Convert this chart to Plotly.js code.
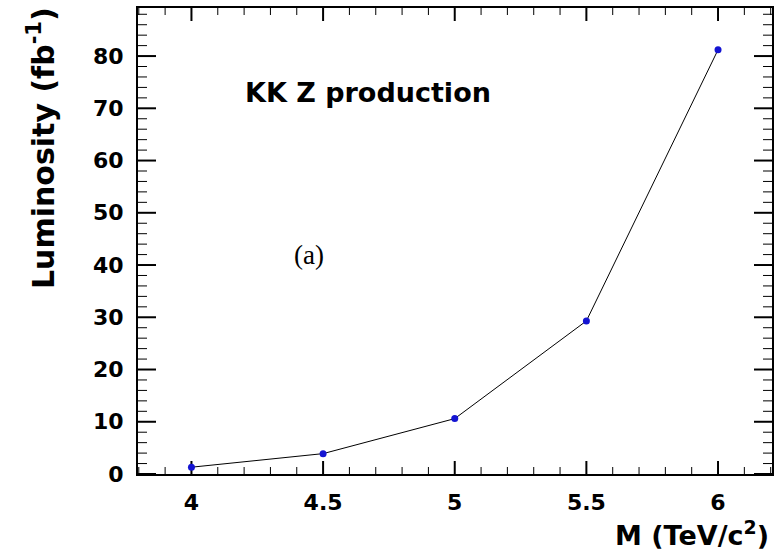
<!DOCTYPE html>
<html>
<head>
<meta charset="utf-8">
<script src="https://cdn.plot.ly/plotly-3.0.1.min.js"></script>
<style>html,body{margin:0;padding:0;background:#fff;}.p{width:782px;height:553px;}</style>
</head>
<body>
<div id="plot" class="p"></div>
<script>
const massTeV = [4, 4.5, 5, 5.5, 6];
const luminosity = [1.3, 3.9, 10.6, 29.3, 81.2];
const xRange = [3.797, 6.205];
const yRange = [0, 89.2];
const xTickStep = 0.5;
const xMinorStep = 0.1;
const yTickStep = 10;
const yMinorStep = 2;
const plotTitle = "KK Z production";
const panelLabel = "(a)";
const xTitle = "M (TeV/c<sup>2</sup>)";
const yTitle = "Luminosity (fb<sup>-1</sup>)";

const boldFont = "DejaVu Sans";
const W = 782, H = 553, M = {l: 138, r: 10, t: 8, b: 79};
const xPerPx = (xRange[1] - xRange[0]) / (W - M.l - M.r);
const yPerPx = (yRange[1] - yRange[0]) / (H - M.t - M.b);

function base(extra) {
  return Object.assign({
    showline: true, linecolor: '#000', linewidth: 2, mirror: true,
    ticks: '', showgrid: false, zeroline: false, tickmode: 'linear', tick0: 0,
    ticklabelstandoff: 8,
    tickfont: {family: boldFont, size: 22, color: '#000', weight: 'bold'}
  }, extra);
}
const xaxis = base({dtick: xTickStep, range: xRange});
const yaxis = base({dtick: yTickStep, range: yRange});

// inside tick marks built from the tick steps and the axis ranges
function isMultiple(v, step) { return Math.abs(v / step - Math.round(v / step)) < 1e-6; }
const majX = [], majY = [], minX = [], minY = [];
function seg(xs, ys, xa, ya, xb, yb) { xs.push(xa, xb, null); ys.push(ya, yb, null); }
const nx = Math.round(1 / xMinorStep);
for (let i = Math.ceil(xRange[0] * nx); i <= Math.floor(xRange[1] * nx); i++) {
  const v = i / nx, major = isMultiple(v, xTickStep);
  const len = (major ? 13 : 7) * yPerPx;
  const xs = major ? majX : minX, ys = major ? majY : minY;
  seg(xs, ys, v, yRange[0], v, yRange[0] + len);
  seg(xs, ys, v, yRange[1], v, yRange[1] - len);
}
for (let v = yRange[0]; v <= yRange[1]; v += yMinorStep) {
  const major = isMultiple(v, yTickStep);
  const len = (major ? 18 : 9) * xPerPx;
  const xs = major ? majX : minX, ys = major ? majY : minY;
  seg(xs, ys, xRange[0], v, xRange[0] + len, v);
  seg(xs, ys, xRange[1], v, xRange[1] - len, v);
}

const annotations = [
  {text: plotTitle, xref: 'paper', yref: 'paper', x: 0.166, y: 0.818,
   xanchor: 'left', yanchor: 'middle', showarrow: false,
   font: {family: boldFont, size: 27, color: '#000', weight: 'bold'}},
  {text: panelLabel, xref: 'paper', yref: 'paper', x: 0.243, y: 0.47,
   xanchor: 'left', yanchor: 'middle', showarrow: false,
   font: {family: 'Liberation Serif', size: 27, color: '#000'}},
  {text: xTitle, xref: 'paper', yref: 'paper', x: 0.998, y: -0.128,
   xanchor: 'right', yanchor: 'middle', showarrow: false,
   font: {family: boldFont, size: 27, color: '#000', weight: 'bold'}},
  {text: yTitle, xref: 'paper', yref: 'paper', x: -0.151, y: 0.70,
   xanchor: 'center', yanchor: 'middle', showarrow: false, textangle: -90,
   font: {family: boldFont, size: 30, color: '#000', weight: 'bold'}}
];
const data = [
  {x: minX, y: minY, type: 'scatter', mode: 'lines', line: {color: '#000', width: 1},
   hoverinfo: 'skip', showlegend: false, connectgaps: false},
  {x: majX, y: majY, type: 'scatter', mode: 'lines', line: {color: '#000', width: 2},
   hoverinfo: 'skip', showlegend: false, connectgaps: false},
  {x: massTeV, y: luminosity, type: 'scatter', mode: 'lines+markers',
   line: {color: '#000000', width: 1}, marker: {color: '#1414d2', size: 7}, showlegend: false}
];
const layout = {width: W, height: H, margin: M, showlegend: false,
   xaxis: xaxis, yaxis: yaxis, annotations: annotations};
Plotly.newPlot('plot', data, layout, {staticPlot: true});
</script>
</body>
</html>
